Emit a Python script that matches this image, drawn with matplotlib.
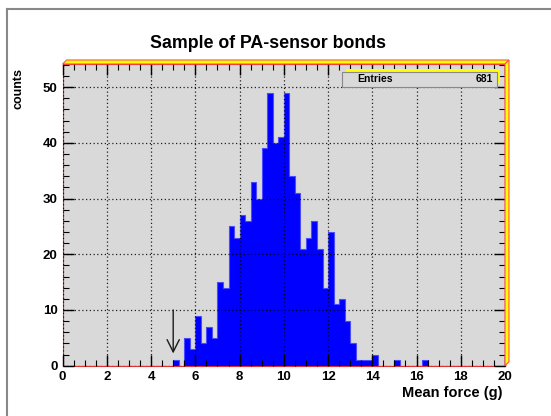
import matplotlib.pyplot as plt
import matplotlib.patches as mpatches
from matplotlib.lines import Line2D
import numpy as np

# histogram contents, bins of 0.25 g from 0 to 20
bin_width = 0.25
bin_lo = [5.0, 5.5, 5.75, 6.0, 6.25, 6.5, 6.75, 7.0, 7.25, 7.5, 7.75,
          8.0, 8.25, 8.5, 8.75, 9.0, 9.25, 9.5, 9.75, 10.0, 10.25, 10.5, 10.75,
          11.0, 11.25, 11.5, 11.75, 12.0, 12.25, 12.5, 12.75, 13.0, 13.25, 13.5, 13.75,
          14.0, 15.0, 16.25]
counts = [1, 5, 3, 9, 4, 7, 5, 15, 14, 25, 23,
          27, 26, 33, 30, 39, 49, 40, 41, 49, 34, 31, 21,
          23, 26, 21, 14, 24, 11, 12, 8, 4, 1, 1, 1,
          2, 1, 1]
entries = 681

W, H = 551, 416
fig = plt.figure(figsize=(W / 100, H / 100), dpi=100)
fig.patch.set_facecolor('white')
plt.rcParams['font.family'] = ['Liberation Sans', 'DejaVu Sans']


def fx(px):
    return px / W


def fy(py):
    return 1 - py / H


# frame in pixels
x0, x1 = 62.6, 505.0
ytop, ybot = 64.0, 365.7
ax = fig.add_axes([fx(x0), fy(ybot), fx(x1) - fx(x0), fy(ytop) - fy(ybot)])
ax.set_facecolor('#d9d9d9')
ax.set_xlim(0, 20)
ax.set_ylim(0, (ybot - ytop) / 5.57)

# full 80-bin histogram filled as one step shape
edges = np.arange(0, 20 + bin_width / 2, bin_width)
hist = np.zeros(len(edges) - 1)
for lo, c in zip(bin_lo, counts):
    hist[int(round(lo / bin_width))] = c
ax.stairs(hist, edges, fill=True, color='#0000ff', zorder=2)
ax.stairs(hist, edges, color='#4a4aff', linewidth=0.8, zorder=2)

# arrow marking the cut
ax.annotate('', xy=(5.0, 2.2), xytext=(5.0, 10.0),
            arrowprops=dict(arrowstyle='->', color='#1a1a1a', lw=1.0,
                            mutation_scale=22, shrinkA=0, shrinkB=0), zorder=3)

ax.set_xticks(np.arange(0, 21, 2))
ax.set_xticks(np.arange(0, 20.01, 0.5), minor=True)
ax.set_yticks(np.arange(0, 51, 10))
ax.set_yticks(np.arange(0, 55, 2), minor=True)
ax.tick_params(which='both', direction='in', top=True, right=True, color='black')
ax.tick_params(which='major', length=8, width=1.0, labelsize=9.5, pad=3.5)
ax.tick_params(which='minor', length=4, width=0.8)
for lab in ax.get_xticklabels() + ax.get_yticklabels():
    lab.set_fontweight('bold')

ax.grid(True, which='major', color='black', linestyle=(0, (1, 2)), linewidth=0.9, alpha=0.85, zorder=5)
ax.set_axisbelow(False)
for s in ax.spines.values():
    s.set_color('#e03030')
    s.set_linewidth(0.8)

# stats box with yellow shadow
shadow = mpatches.Rectangle((fx(345.7), fy(83.7)), fx(154), fy(0) - fy(15),
                            transform=fig.transFigure, facecolor='#ffff00',
                            edgecolor='none', zorder=3)
box = mpatches.Rectangle((fx(341.7), fy(86.7)), fx(155), fy(0) - fy(15),
                         transform=fig.transFigure, facecolor='#d9d9d9',
                         edgecolor='#888888', linewidth=0.8, zorder=4)
ax.add_artist(shadow)
ax.add_artist(box)
ax.text(fx(375), fy(79), 'Entries', transform=fig.transFigure, fontsize=7.5,
        fontweight='bold', ha='center', va='center', zorder=6)
ax.text(fx(493), fy(79), str(entries), transform=fig.transFigure, fontsize=7.5,
        fontweight='bold', ha='right', va='center', zorder=6)

# 3D border of the frame (yellow bevel top and right)
b = 4
top_band = [(x0, ytop), (x0 + b, ytop - b), (x1 + b, ytop - b), (x1, ytop)]
right_band = [(x1, ytop), (x1 + b, ytop - b), (x1 + b, ybot - b), (x1, ybot)]
for poly in (top_band, right_band):
    fig.patches.append(mpatches.Polygon([(fx(px), fy(py)) for px, py in poly],
                                        closed=True, transform=fig.transFigure,
                                        facecolor='#ffff00', edgecolor='#ff5050',
                                        linewidth=0.8))

# canvas border
fig.lines.append(Line2D([fx(7), fx(7)], [fy(9), 0], transform=fig.transFigure,
                        color='#888888', linewidth=1.5))
fig.lines.append(Line2D([fx(7), 1], [fy(9), fy(9)], transform=fig.transFigure,
                        color='#888888', linewidth=1.5))

fig.text(fx(268), fy(43), 'Sample of PA-sensor bonds', fontsize=12.8,
         fontweight='bold', ha='center', va='center')
fig.text(fx(503), fy(393), 'Mean force (g)', fontsize=10.5,
         fontweight='bold', ha='right', va='center')
fig.text(fx(18), fy(68), 'counts', fontsize=9, fontweight='bold',
         rotation=90, ha='center', va='top')

fig.savefig('out.png', dpi=100)
